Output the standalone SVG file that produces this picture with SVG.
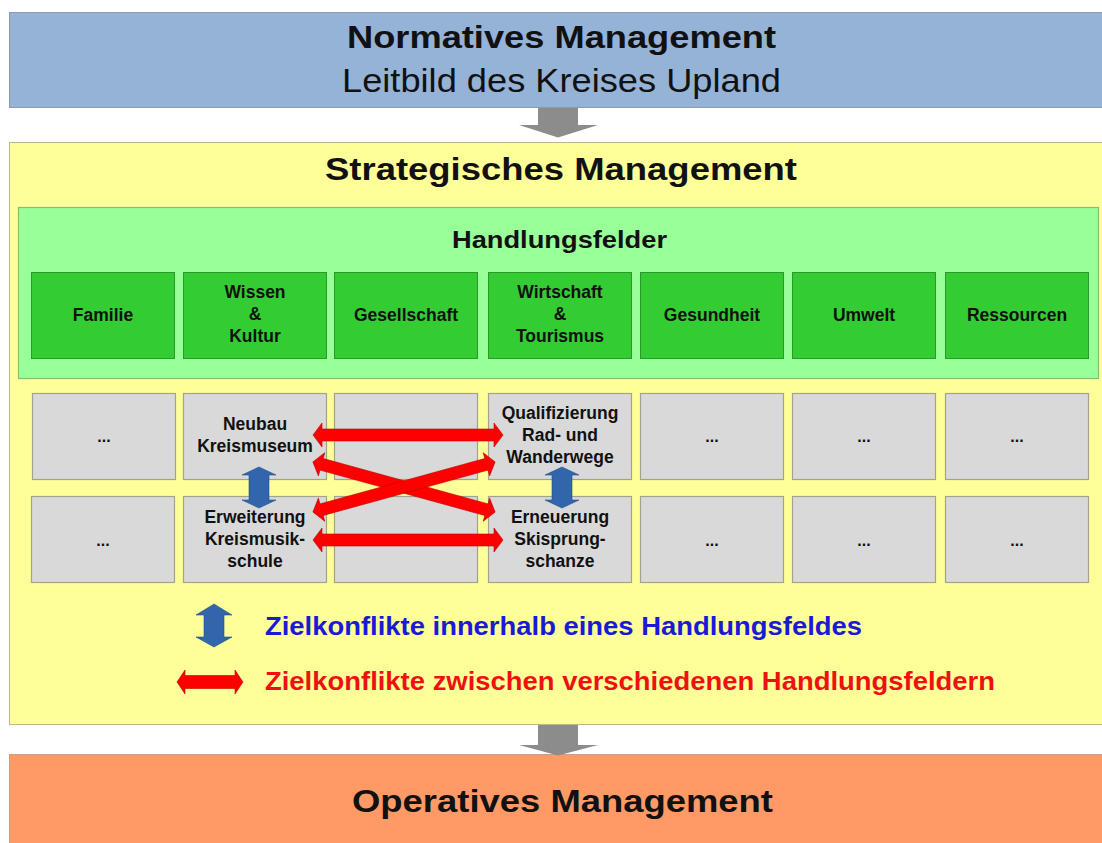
<svg xmlns="http://www.w3.org/2000/svg" width="1102" height="843" viewBox="0 0 1102 843">
  <style>
    text { font-family: "Liberation Sans", Arial, sans-serif; fill: #111; }
    .b { font-weight: bold; }
    .mid { text-anchor: middle; }
    .band-blue { fill: #95b3d7; stroke: #8a9bb0; stroke-width: 1; }
    .band-yellow { fill: #ffff99; stroke: #b8b88a; stroke-width: 1; }
    .band-orange { fill: #ff9966; stroke: #c8a080; stroke-width: 1; }
    .panel { fill: #99ff99; stroke: #88bb77; stroke-width: 1.2; }
    .field { fill: #33cc33; stroke: #2a9a2a; stroke-width: 1; }
    .goal { fill: #d9d9d9; stroke: #a3a38c; stroke-width: 1.2; }
    .lbl { font-size: 17.5px; font-weight: bold; text-anchor: middle; }
    .dots { font-size: 16px; font-weight: bold; text-anchor: middle; }
    .flow { fill: #8c8c8c; }
    .intra { fill: #3166ad; stroke: #24508c; stroke-width: 0.6; }
    .inter { fill: #ff0000; stroke: #c00000; stroke-width: 0.6; }
  </style>

  <rect width="1102" height="843" fill="#ffffff"/>

  <!-- management levels -->
  <g id="normativ">
    <rect class="band-blue" x="9.5" y="12.5" width="1100" height="95"/>
    <text class="b mid" x="561.5" y="48" font-size="32" textLength="429" lengthAdjust="spacingAndGlyphs">Normatives Management</text>
    <text class="mid" x="561.5" y="92" font-size="33" textLength="439" lengthAdjust="spacingAndGlyphs">Leitbild des Kreises Upland</text>
  </g>

  <g id="strategisch">
    <rect class="band-yellow" x="9.5" y="142.5" width="1100" height="582"/>
    <text class="b mid" x="561" y="180" font-size="32" textLength="472" lengthAdjust="spacingAndGlyphs">Strategisches Management</text>
  </g>

  <g id="operativ">
    <rect class="band-orange" x="9.5" y="754.5" width="1100" height="100"/>
    <text class="b mid" x="562.5" y="812" font-size="31" textLength="421" lengthAdjust="spacingAndGlyphs">Operatives Management</text>
  </g>

  <!-- fields of action -->
  <g id="handlungsfelder">
    <rect class="panel" x="18.5" y="207.5" width="1080" height="171"/>
    <text class="b mid" x="559.5" y="248" font-size="24" textLength="215" lengthAdjust="spacingAndGlyphs">Handlungsfelder</text>
  </g>

  <g id="feld-familie">
    <rect class="field" x="31.5" y="272.5" width="143" height="86"/>
    <text class="lbl" x="103" y="321">Familie</text>
  </g>
  <g id="feld-wissen">
    <rect class="field" x="183.5" y="272.5" width="143" height="86"/>
    <text class="lbl" x="255" y="298">Wissen</text>
    <text class="lbl" x="255" y="320">&amp;</text>
    <text class="lbl" x="255" y="342">Kultur</text>
  </g>
  <g id="feld-gesellschaft">
    <rect class="field" x="334.5" y="272.5" width="143" height="86"/>
    <text class="lbl" x="406" y="321">Gesellschaft</text>
  </g>
  <g id="feld-wirtschaft">
    <rect class="field" x="488.5" y="272.5" width="143" height="86"/>
    <text class="lbl" x="560" y="298">Wirtschaft</text>
    <text class="lbl" x="560" y="320">&amp;</text>
    <text class="lbl" x="560" y="342">Tourismus</text>
  </g>
  <g id="feld-gesundheit">
    <rect class="field" x="640.5" y="272.5" width="143" height="86"/>
    <text class="lbl" x="712" y="321">Gesundheit</text>
  </g>
  <g id="feld-umwelt">
    <rect class="field" x="792.5" y="272.5" width="143" height="86"/>
    <text class="lbl" x="864" y="321">Umwelt</text>
  </g>
  <g id="feld-ressourcen">
    <rect class="field" x="945.5" y="272.5" width="143" height="86"/>
    <text class="lbl" x="1017" y="321">Ressourcen</text>
  </g>

  <!-- goals, first row -->
  <g id="ziel-1-1">
    <rect class="goal" x="32.5" y="393.5" width="143" height="86"/>
    <text class="dots" x="104" y="442">...</text>
  </g>
  <g id="ziel-1-2">
    <rect class="goal" x="183.5" y="393.5" width="143" height="86"/>
    <text class="lbl" x="255" y="430">Neubau</text>
    <text class="lbl" x="255" y="452">Kreismuseum</text>
  </g>
  <g id="ziel-1-3">
    <rect class="goal" x="334.5" y="393.5" width="143" height="86"/>
  </g>
  <g id="ziel-1-4">
    <rect class="goal" x="488.5" y="393.5" width="143" height="86"/>
    <text class="lbl" x="560" y="419">Qualifizierung</text>
    <text class="lbl" x="560" y="441">Rad- und</text>
    <text class="lbl" x="560" y="463">Wanderwege</text>
  </g>
  <g id="ziel-1-5">
    <rect class="goal" x="640.5" y="393.5" width="143" height="86"/>
    <text class="dots" x="712" y="442">...</text>
  </g>
  <g id="ziel-1-6">
    <rect class="goal" x="792.5" y="393.5" width="143" height="86"/>
    <text class="dots" x="864" y="442">...</text>
  </g>
  <g id="ziel-1-7">
    <rect class="goal" x="945.5" y="393.5" width="143" height="86"/>
    <text class="dots" x="1017" y="442">...</text>
  </g>

  <!-- goals, second row -->
  <g id="ziel-2-1">
    <rect class="goal" x="31.5" y="496.5" width="143" height="86"/>
    <text class="dots" x="103" y="546">...</text>
  </g>
  <g id="ziel-2-2">
    <rect class="goal" x="183.5" y="496.5" width="143" height="86"/>
    <text class="lbl" x="255" y="523">Erweiterung</text>
    <text class="lbl" x="255" y="545">Kreismusik-</text>
    <text class="lbl" x="255" y="567">schule</text>
  </g>
  <g id="ziel-2-3">
    <rect class="goal" x="334.5" y="496.5" width="143" height="86"/>
  </g>
  <g id="ziel-2-4">
    <rect class="goal" x="488.5" y="496.5" width="143" height="86"/>
    <text class="lbl" x="560" y="523">Erneuerung</text>
    <text class="lbl" x="560" y="545">Skisprung-</text>
    <text class="lbl" x="560" y="567">schanze</text>
  </g>
  <g id="ziel-2-5">
    <rect class="goal" x="640.5" y="496.5" width="143" height="86"/>
    <text class="dots" x="712" y="546">...</text>
  </g>
  <g id="ziel-2-6">
    <rect class="goal" x="792.5" y="496.5" width="143" height="86"/>
    <text class="dots" x="864" y="546">...</text>
  </g>
  <g id="ziel-2-7">
    <rect class="goal" x="945.5" y="496.5" width="143" height="86"/>
    <text class="dots" x="1017" y="546">...</text>
  </g>

  <!-- connectors -->
  <g id="connectors">
    <!-- level flow arrows -->
    <path class="flow" d="M538,108 L578,108 L578,125 L598,125 L558,137.5 L519,125 L538,125 Z"/>
    <path class="flow" d="M538,725 L578,725 L578,745 L598,745 L558,755.5 L519,745 L538,745 Z"/>

    <!-- conflicts between fields -->
    <path class="inter" d="M313,435 L322,423 L322,429 L494,429 L494,423 L503,435 L494,447 L494,441 L322,441 L322,447 Z"/>
    <path class="inter" d="M313,540 L322,528 L322,534 L494,534 L494,528 L503,540 L494,552 L494,546 L322,546 L322,552 Z"/>
    <path class="inter" transform="translate(404,487) rotate(15.4)" d="M-94.5,0 L-85.5,-12 L-85.5,-6 L85.5,-6 L85.5,-12 L94.5,0 L85.5,12 L85.5,6 L-85.5,6 L-85.5,12 Z"/>
    <path class="inter" transform="translate(404,487) rotate(-15.4)" d="M-94.5,0 L-85.5,-12 L-85.5,-6 L85.5,-6 L85.5,-12 L94.5,0 L85.5,12 L85.5,6 L-85.5,6 L-85.5,12 Z"/>

    <!-- conflicts within a field -->
    <path class="intra" d="M259,467 L276,475 L269,475 L269,500 L276,500 L259,508 L242,500 L249,500 L249,475 L242,475 Z"/>
    <path class="intra" d="M562,467 L579,475 L572,475 L572,500 L579,500 L562,508 L545,500 L552,500 L552,475 L545,475 Z"/>
  </g>

  <!-- legend -->
  <g id="legende">
    <path class="intra" d="M214,604 L232,615 L224,615 L224,637 L232,637 L214,647 L196,637 L204,637 L204,615 L196,615 Z"/>
    <text class="b" x="265" y="635" font-size="25" style="fill:#1a1ad6" textLength="597" lengthAdjust="spacingAndGlyphs">Zielkonflikte innerhalb eines Handlungsfeldes</text>
    <path class="inter" d="M177,682 L185,670 L185,675.5 L235,675.5 L235,670 L243,682 L235,694 L235,688.5 L185,688.5 L185,694 Z"/>
    <text class="b" x="265" y="690" font-size="25" style="fill:#ee1111" textLength="730" lengthAdjust="spacingAndGlyphs">Zielkonflikte zwischen verschiedenen Handlungsfeldern</text>
  </g>
</svg>
